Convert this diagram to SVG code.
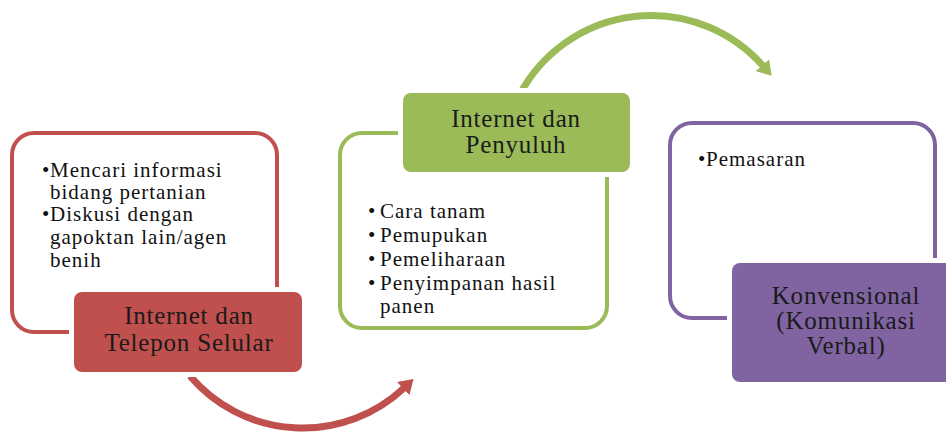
<svg xmlns="http://www.w3.org/2000/svg" width="946" height="433" viewBox="0 0 946 433">
  <style>
    .outline { fill: #ffffff; stroke-width: 4; }
    .filled { stroke: #ffffff; stroke-width: 10; paint-order: stroke; }
    .title { font-family: "Liberation Serif", "Times New Roman", serif; font-size: 25px; letter-spacing: 0.8px; fill: #1a1a1a; text-anchor: middle; }
    .item { font-family: "Liberation Serif", "Times New Roman", serif; font-size: 21px; letter-spacing: 1px; fill: #111111; }
    .arc { fill: none; stroke-width: 7; }
  </style>
  <defs>
    <marker id="headRed" viewBox="0 0 14 18" refX="1" refY="9" markerWidth="14" markerHeight="18" markerUnits="userSpaceOnUse" orient="auto">
      <path d="M0,0 L14,9 L0,18 z" fill="#C0504D"/>
    </marker>
    <marker id="headGreen" viewBox="0 0 14 18" refX="1" refY="9" markerWidth="14" markerHeight="18" markerUnits="userSpaceOnUse" orient="auto">
      <path d="M0,0 L14,9 L0,18 z" fill="#9BBB59"/>
    </marker>
  </defs>

  <rect width="946" height="433" fill="#ffffff"/>

  <g id="connectors">
    <path class="arc" stroke="#C0504D" d="M 190 376 A 148 148 0 0 0 404 388" marker-end="url(#headRed)"/>
    <path class="arc" stroke="#9BBB59" d="M 520 94 A 149 149 0 0 1 763 66" marker-end="url(#headGreen)"/>
  </g>

  <g id="node-internet-telepon">
    <rect class="outline" stroke="#C0504D" x="12" y="133" width="265" height="199" rx="22"/>
    <text class="item" x="42" y="177">•</text>
    <text class="item" x="50" y="177">Mencari informasi</text>
    <text class="item" x="50" y="199">bidang pertanian</text>
    <text class="item" x="42" y="221">•</text>
    <text class="item" x="50" y="221">Diskusi dengan</text>
    <text class="item" x="50" y="244">gapoktan lain/agen</text>
    <text class="item" x="50" y="267">benih</text>
    <rect class="filled" fill="#C0504D" x="74" y="292" width="228" height="80" rx="8"/>
    <text class="title" x="189" y="324">Internet dan<tspan x="189" dy="27">Telepon Selular</tspan></text>
  </g>

  <g id="node-internet-penyuluh">
    <rect class="outline" stroke="#9BBB59" x="340" y="133" width="267" height="195" rx="22"/>
    <text class="item" x="368" y="218">•</text>
    <text class="item" x="380" y="218">Cara tanam</text>
    <text class="item" x="368" y="242">•</text>
    <text class="item" x="380" y="242">Pemupukan</text>
    <text class="item" x="368" y="266">•</text>
    <text class="item" x="380" y="266">Pemeliharaan</text>
    <text class="item" x="368" y="290">•</text>
    <text class="item" x="380" y="290">Penyimpanan hasil</text>
    <text class="item" x="380" y="313">panen</text>
    <rect class="filled" fill="#9BBB59" x="403" y="93" width="227" height="79" rx="8"/>
    <text class="title" x="516" y="127">Internet dan<tspan x="516" dy="26">Penyuluh</tspan></text>
  </g>

  <g id="node-konvensional">
    <rect class="outline" stroke="#8064A2" x="670" y="123" width="265" height="195" rx="22"/>
    <text class="item" x="698" y="166">•</text>
    <text class="item" x="706" y="166">Pemasaran</text>
    <rect class="filled" fill="#8064A2" x="732" y="263" width="228" height="119" rx="8"/>
    <text class="title" x="846" y="304">Konvensional<tspan x="846" dy="25">(Komunikasi</tspan><tspan x="846" dy="25">Verbal)</tspan></text>
  </g>
</svg>
